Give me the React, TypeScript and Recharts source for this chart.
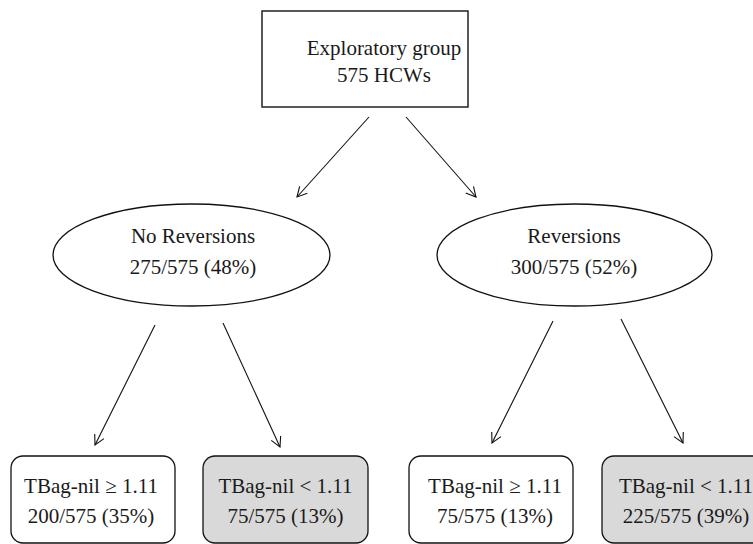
import React from "react";
import { ScatterChart, Scatter, XAxis, YAxis } from "recharts";

// ---- data ----
const nodeTitles = [
  "Exploratory group",
  "No Reversions",
  "Reversions",
  "TBag-nil ≥ 1.11",
  "TBag-nil < 1.11",
  "TBag-nil ≥ 1.11",
  "TBag-nil < 1.11",
];
const nodeCounts = [575, 275, 300, 200, 75, 75, 225];
const totalHCWs = 575;
const nodeKinds = ["rect", "ellipse", "ellipse", "round", "roundGray", "round", "roundGray"];
const edges: [number, number][] = [
  [0, 1],
  [0, 2],
  [1, 3],
  [1, 4],
  [2, 5],
  [2, 6],
];

// ---- layout (in axis units, 1 unit = 1px) ----
const W = 753;
const H = 544;
const nodeCx = [365, 191.5, 574.5, 93, 285.5, 491, 685];
const nodeCy = [59, 255, 255, 499.5, 499.5, 499.5, 499.5];
const nodeW = [206, 277, 275, 164, 165, 164, 166];
const nodeH = [96, 102, 102, 87, 87, 87, 87];
const textCx = [384, 193, 574, 91, 285.5, 495, 686];
const line1Dy = [-4, -12, -12, -6.5, -6.5, -6.5, -6.5];
const line2Dy = [23, 19, 19, 23.5, 23.5, 23.5, 23.5];
const arrowFrom: [number, number][] = [
  [369, 117],
  [406, 117],
  [155, 325],
  [223, 323],
  [553, 321],
  [621, 319],
];
const arrowTo: [number, number][] = [
  [297, 197],
  [476, 197],
  [95, 445],
  [280, 447],
  [492, 443],
  [683, 443],
];

const FONT = "Liberation Serif, DejaVu Serif, serif";

const nodes = nodeTitles.map((title, i) => ({
  x: nodeCx[i],
  y: nodeCy[i],
  w: nodeW[i],
  h: nodeH[i],
  kind: nodeKinds[i],
  title,
  sub:
    i === 0
      ? `${nodeCounts[i]} HCWs`
      : `${nodeCounts[i]}/${totalHCWs} (${Math.round((nodeCounts[i] / totalHCWs) * 100)}%)`,
  tdx: textCx[i] - nodeCx[i],
  d1: line1Dy[i],
  d2: line2Dy[i],
}));

const arrowData = edges.map((_, i) => [
  { x: arrowFrom[i][0], y: arrowFrom[i][1], tip: false, fx: 0, fy: 0 },
  { x: arrowTo[i][0], y: arrowTo[i][1], tip: true, fx: arrowFrom[i][0], fy: arrowFrom[i][1] },
]);

const textStyle: React.CSSProperties = { fontFamily: FONT, fontSize: 21 };

const NodeShape = (props: any) => {
  const { cx, cy, payload } = props;
  const { w, h, kind, title, sub, tdx, d1, d2 } = payload;
  let frame: React.ReactNode;
  if (kind === "rect") {
    frame = (
      <rect x={cx - w / 2} y={cy - h / 2} width={w} height={h} fill="#fff" stroke="#222" strokeWidth={1.5} />
    );
  } else if (kind === "ellipse") {
    frame = <ellipse cx={cx} cy={cy} rx={w / 2} ry={h / 2} fill="#fff" stroke="#111" strokeWidth={1.3} />;
  } else {
    frame = (
      <rect
        x={cx - w / 2}
        y={cy - h / 2}
        width={w}
        height={h}
        rx={12}
        ry={12}
        fill={kind === "roundGray" ? "#d9d9d9" : "#fff"}
        stroke="#111"
        strokeWidth={1.3}
      />
    );
  }
  return (
    <g>
      {frame}
      <text x={cx + tdx} y={cy + d1} textAnchor="middle" style={textStyle} fill="#1a1a1a">
        {title}
      </text>
      <text x={cx + tdx} y={cy + d2} textAnchor="middle" style={textStyle} fill="#1a1a1a">
        {sub}
      </text>
    </g>
  );
};

const ArrowTip = (props: any) => {
  const { cx, cy, payload } = props;
  if (!payload || !payload.tip) return <g />;
  const ang = Math.atan2(payload.y - payload.fy, payload.x - payload.fx);
  const len = 11;
  const spread = (28 * Math.PI) / 180;
  const a1 = ang + Math.PI - spread;
  const a2 = ang + Math.PI + spread;
  const p1 = `${cx + len * Math.cos(a1)},${cy + len * Math.sin(a1)}`;
  const p2 = `${cx + len * Math.cos(a2)},${cy + len * Math.sin(a2)}`;
  return <polyline points={`${p1} ${cx},${cy} ${p2}`} fill="none" stroke="#111" strokeWidth={1.1} />;
};

export default function App() {
  return (
    <div style={{ position: "absolute", left: 0, top: 0, width: W, height: H, background: "#fff" }}>
      <ScatterChart width={W} height={H} margin={{ top: 0, right: 0, bottom: 0, left: 0 }}>
        <XAxis type="number" dataKey="x" domain={[0, W]} hide allowDataOverflow />
        <YAxis type="number" dataKey="y" domain={[0, H]} reversed hide allowDataOverflow />
        {arrowData.map((d, i) => (
          <Scatter
            key={`a${i}`}
            data={d}
            line={{ stroke: "#111", strokeWidth: 1.1 }}
            lineType="joint"
            shape={ArrowTip}
            isAnimationActive={false}
          />
        ))}
        <Scatter data={nodes} shape={NodeShape} isAnimationActive={false} />
      </ScatterChart>
    </div>
  );
}
